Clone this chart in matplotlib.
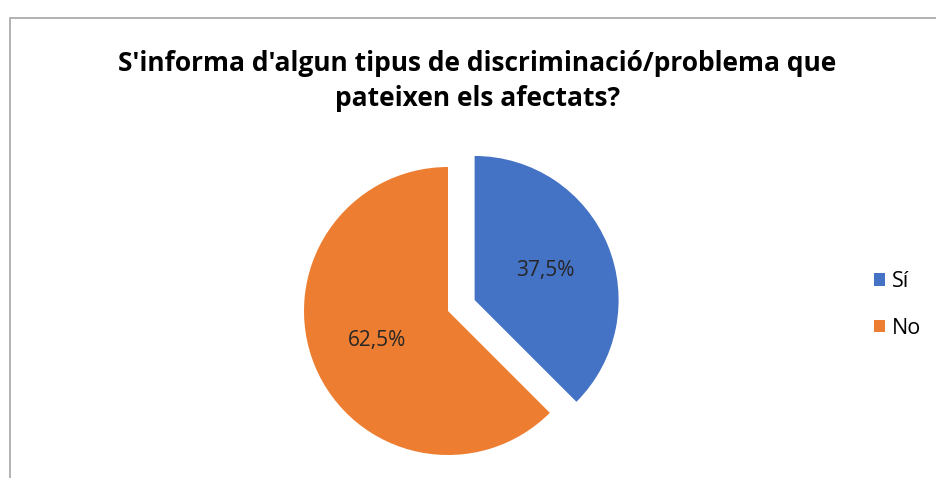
import matplotlib.pyplot as plt
from matplotlib.patches import Rectangle

# data
categories = ['Sí', 'No']
values = [37.5, 62.5]
colors = ['#4472C4', '#ED7D31']
title = "S'informa d'algun tipus de discriminació/problema que\npateixen els afectats?"

plt.rcParams['font.family'] = ['Open Sans', 'DejaVu Sans']

fig = plt.figure(figsize=(9.36, 4.78), dpi=100)
W, H = 936, 478

# chart frame (only left and top edges visible)
fig.patches.append(Rectangle((10 / W, -0.1), 1.2, (H - 18) / H + 0.1,
                             transform=fig.transFigure, fill=False,
                             edgecolor='#A6A6A6', linewidth=1.2))

# pie axes: center at (448, 311) px, radius 146 px
r = 146
half = 180
cx, cy = 448, 311
ax = fig.add_axes([(cx - half) / W, (H - cy - half) / H, 2 * half / W, 2 * half / H])
ax.set_xlim(-half / r, half / r)
ax.set_ylim(-half / r, half / r)
ax.set_aspect('equal')
ax.axis('off')


def fmt(pct):
    return '{0:.1f}%'.format(pct).replace('.', ',')


wedges, texts, autotexts = ax.pie(values, colors=colors, startangle=90, counterclock=False,
                                  explode=[0.2, 0], autopct=fmt, pctdistance=0.53,
                                  wedgeprops=dict(linewidth=0), textprops=dict(fontsize=15))
for t in autotexts:
    t.set_color('#262626')

fig.text(0.51, (H - 81) / H, title, ha='center', va='center', fontsize=19,
         fontweight='bold', color='black', linespacing=1.35)

fig.legend(wedges, categories, loc='center left', bbox_to_anchor=(874 / W, (H - 305) / H),
           frameon=False, fontsize=15.5, handlelength=0.5, handleheight=0.5,
           handletextpad=0.35, labelspacing=1.2, borderpad=0, borderaxespad=0)

fig.savefig('out.png', dpi=100)
